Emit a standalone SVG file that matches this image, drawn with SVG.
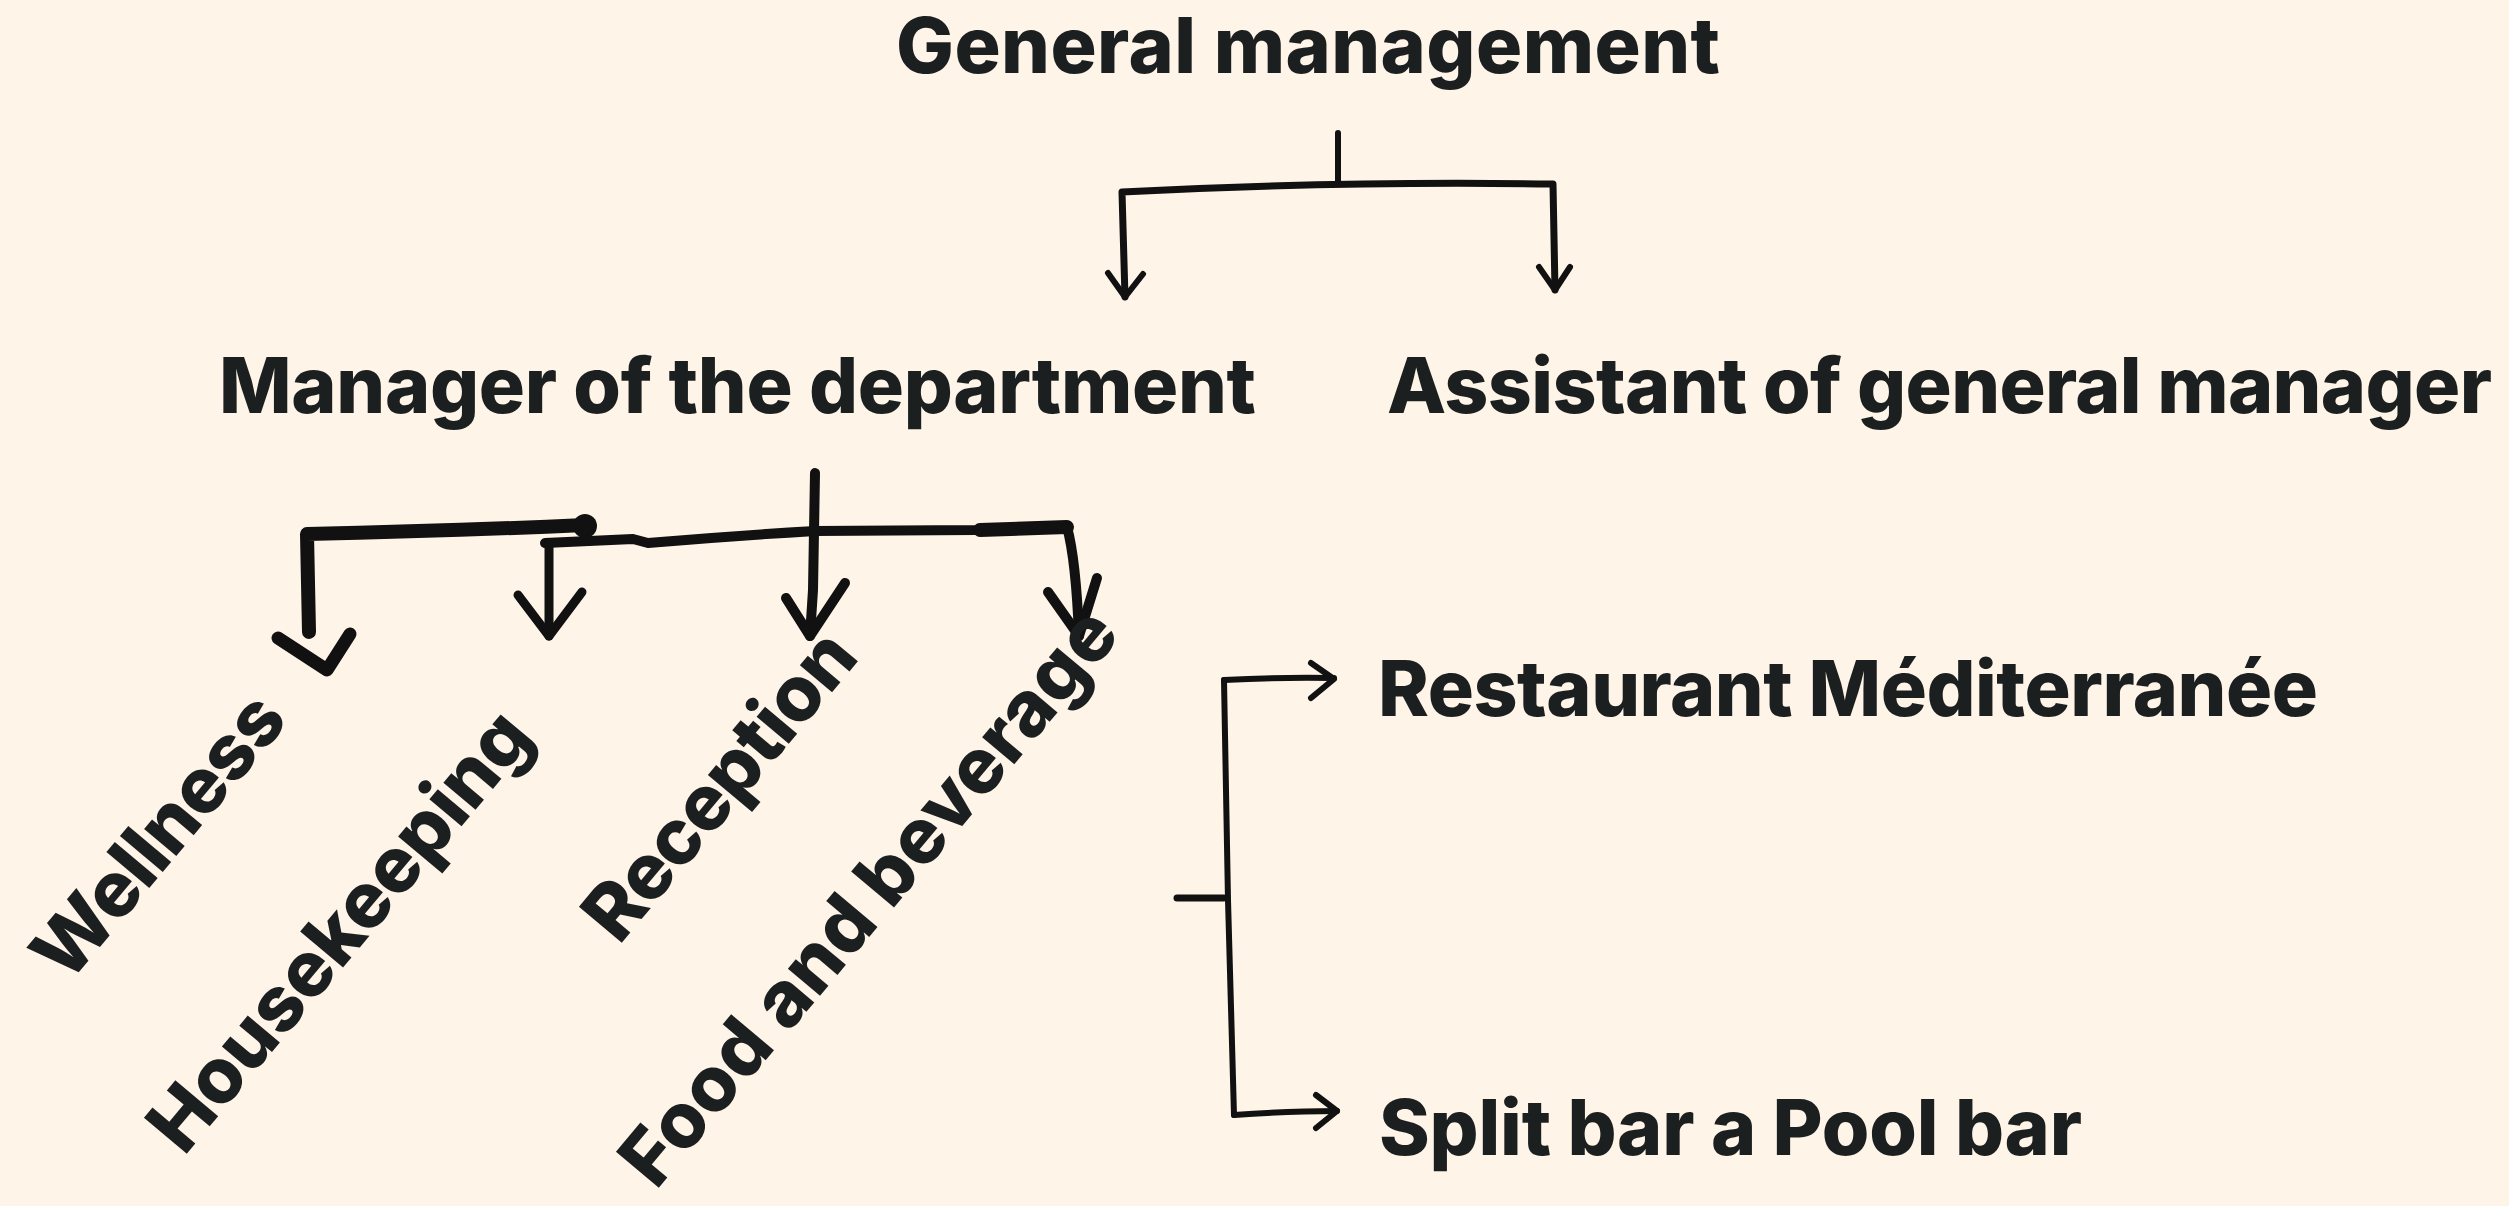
<svg xmlns="http://www.w3.org/2000/svg" width="2509" height="1206" viewBox="0 0 2509 1206">
<style>
.t{font-family:Inter,"Liberation Sans",sans-serif;font-weight:800;font-size:77px;fill:#1c1f20}
.c{fill:none;stroke:#111;stroke-linecap:round;stroke-linejoin:round}
</style>
<rect width="2509" height="1206" fill="#fef5e8"/>
<g id="connectors">
<g id="c1" class="c" stroke-width="6">
<path d="M1338,133 L1338,184"/>
<path d="M1125,297 L1122,192 Q1330,181 1553,184 L1555,290" stroke-width="7"/>
<path d="M1108,273 L1125,297 L1143,274"/>
<path d="M1539,267 L1555,290 L1570,267"/>
</g>
<g id="c2" class="c">
<path d="M309,632 L307,534 Q450,531 585,525" stroke-width="14"/>
<circle cx="585" cy="526" r="12" fill="#111" stroke="none"/>
<path d="M545,543 L633,539 L648,543 Q730,536 815,531 L976,530 L1067,527" stroke-width="10"/>
<path d="M980,530 L1067,527" stroke-width="14"/>
<path d="M278,638 L327,670 L350,634" stroke-width="13"/>
<path d="M549,543 L549,636" stroke-width="9"/>
<path d="M518,595 L549,636 L582,592" stroke-width="9"/>
<path d="M815,473 L813,590 L810,636" stroke-width="10"/>
<path d="M786,598 L810,636 L845,583" stroke-width="10"/>
<path d="M1067,527 Q1076,560 1079,636" stroke-width="10"/>
<path d="M1048,592 L1079,636 L1097,578" stroke-width="10"/>
</g>
<g id="c3" class="c" stroke-width="6">
<path d="M1177,898 L1224,898" stroke-width="7"/>
<path d="M1224,680 L1228,900 L1234,1115"/>
<path d="M1224,680 Q1280,677 1334,678"/>
<path d="M1311,663 L1334,679 L1311,698"/>
<path d="M1234,1115 Q1290,1111 1337,1111"/>
<path d="M1316,1095 L1337,1111 L1316,1128"/>
</g>
</g>
<g id="n-general"><text class="t" x="896" y="73" textLength="824">General management</text></g>
<g id="n-manager"><text class="t" x="219" y="413" textLength="1037">Manager of the department</text></g>
<g id="n-assistant"><text class="t" x="1387" y="413" textLength="1105">Assistant of general manager</text></g>
<g id="n-wellness"><text class="t" transform="translate(68,985) rotate(-50)" x="0" y="0" textLength="345">Wellness</text></g>
<g id="n-housekeeping"><text class="t" transform="translate(184,1157) rotate(-50)" x="0" y="0" textLength="547">Housekeeping</text></g>
<g id="n-reception"><text class="t" transform="translate(619,946) rotate(-50)" x="0" y="0" textLength="376">Reception</text></g>
<g id="n-food"><text class="t" transform="translate(656,1191) rotate(-50)" x="0" y="0" textLength="725">Food and beverage</text></g>
<g id="n-restaurant"><text class="t" x="1378" y="716" textLength="940">Restaurant Méditerranée</text></g>
<g id="n-split"><text class="t" x="1379" y="1155" textLength="703">Split bar a Pool bar</text></g>
</svg>
